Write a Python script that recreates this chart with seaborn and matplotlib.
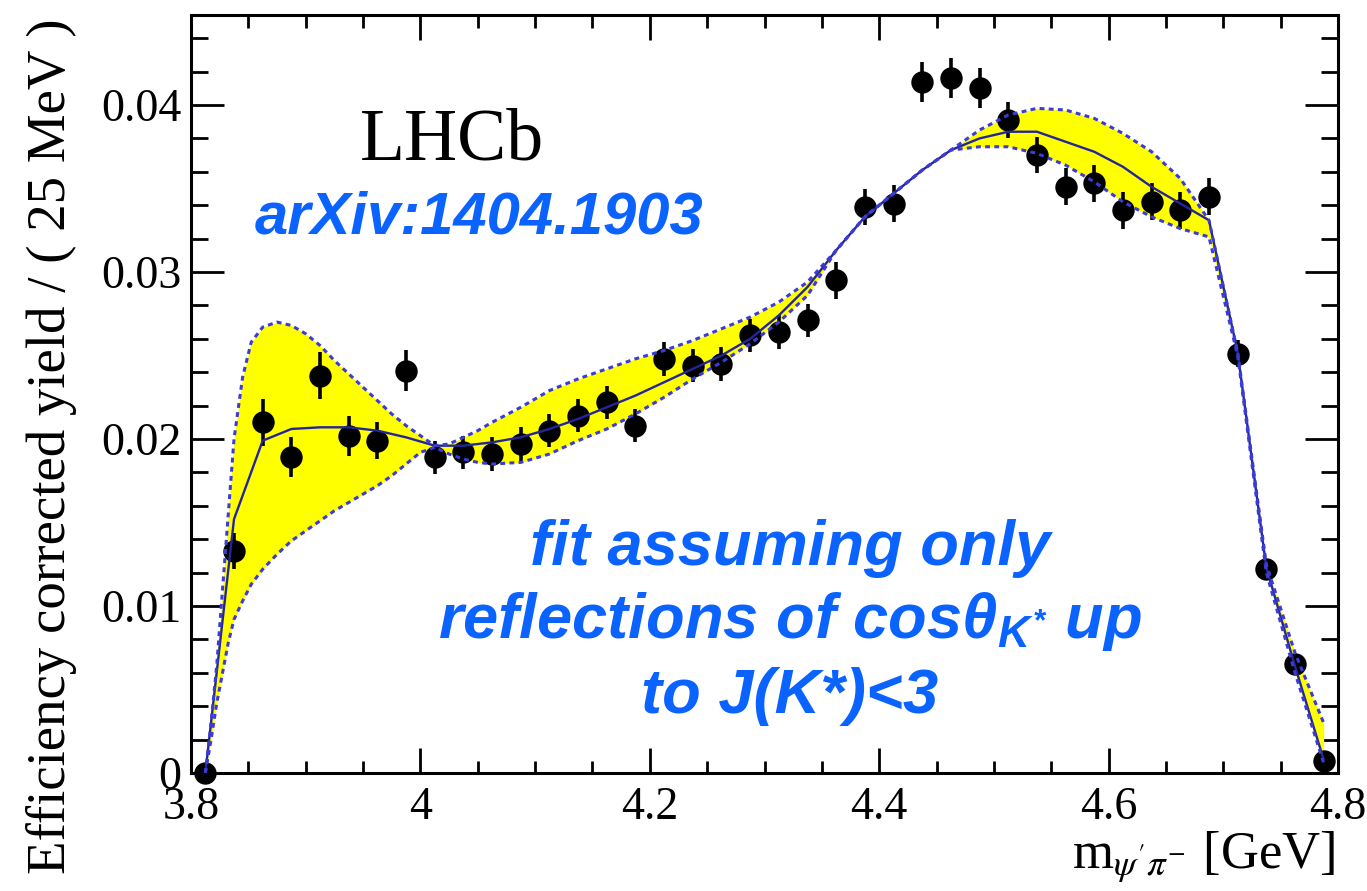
import matplotlib
matplotlib.use("Agg")
import matplotlib.pyplot as plt
import seaborn as sns
import pandas as pd
from matplotlib.ticker import FixedLocator, FixedFormatter, MultipleLocator

# ---------------- data ----------------
mass = [3.8125, 3.8375, 3.8625, 3.8875, 3.9125, 3.9375, 3.9625, 3.9875,
        4.0125, 4.0375, 4.0625, 4.0875, 4.1125, 4.1375, 4.1625, 4.1875,
        4.2125, 4.2375, 4.2625, 4.2875, 4.3125, 4.3375, 4.3625, 4.3875,
        4.4125, 4.4375, 4.4625, 4.4875, 4.5125, 4.5375, 4.5625, 4.5875,
        4.6125, 4.6375, 4.6625, 4.6875, 4.7125, 4.7375, 4.7625, 4.7875]

yield_vals = [0.0000, 0.0133, 0.0210, 0.0189, 0.0238, 0.0202, 0.0199, 0.0241,
              0.0189, 0.0192, 0.0191, 0.0197, 0.0205, 0.0214, 0.0222, 0.0208,
              0.0248, 0.0244, 0.0245, 0.0262, 0.0264, 0.0271, 0.0295, 0.0339,
              0.0341, 0.0414, 0.0416, 0.0410, 0.0391, 0.0370, 0.0351, 0.0353,
              0.0337, 0.0342, 0.0337, 0.0345, 0.0251, 0.0122, 0.0065, 0.0007]

yield_err = [0.0003, 0.0011, 0.0014, 0.0012, 0.0014, 0.0012, 0.0011, 0.0012,
             0.0010, 0.0010, 0.0010, 0.0010, 0.0010, 0.0010, 0.0010, 0.0010,
             0.0010, 0.0010, 0.0010, 0.0010, 0.0010, 0.0010, 0.0011, 0.0011,
             0.0011, 0.0012, 0.0012, 0.0012, 0.0011, 0.0011, 0.0011, 0.0011,
             0.0011, 0.0011, 0.0011, 0.0011, 0.0008, 0.0005, 0.0004, 0.0003]

fit_vals = [0.0000, 0.0152, 0.0199, 0.0206, 0.0207, 0.0207, 0.0205, 0.0201,
            0.0196, 0.0196, 0.0198, 0.0201, 0.0206, 0.0212, 0.0219, 0.0226,
            0.0234, 0.0242, 0.0250, 0.0260, 0.0274, 0.0291, 0.0313, 0.0333,
            0.0347, 0.0361, 0.0373, 0.0380, 0.0384, 0.0384, 0.0378, 0.0372,
            0.0363, 0.0351, 0.0341, 0.0331, 0.0252, 0.0123, 0.0064, 0.0008]

band_x = [3.8125, 3.8175, 3.8225, 3.8275, 3.8325, 3.8375, 3.845, 3.8525,
          3.8625, 3.875, 3.8875, 3.9, 3.9125, 3.925, 3.9375, 3.95, 3.9625,
          3.975, 3.9875, 4.0, 4.0125, 4.025, 4.0375, 4.05, 4.0625, 4.0875,
          4.1125, 4.1375, 4.1625, 4.1875, 4.2125, 4.2375, 4.2625, 4.2875,
          4.3125, 4.3375, 4.3625, 4.3875, 4.4125, 4.4375, 4.4625, 4.4875,
          4.5125, 4.5375, 4.5625, 4.5875, 4.6125, 4.6375, 4.6625, 4.6875,
          4.7125, 4.7375, 4.7625, 4.7875]

band_hi = [0.0000, 0.0030, 0.0065, 0.0110, 0.0155, 0.0200, 0.0237, 0.0258,
           0.0267, 0.0270, 0.0268, 0.0263, 0.0256, 0.0247, 0.0239, 0.0231,
           0.0223, 0.0215, 0.0208, 0.0202, 0.0196, 0.0197, 0.0201, 0.0205,
           0.0210, 0.0219, 0.0229, 0.0236, 0.0242, 0.0248, 0.0253, 0.0259,
           0.0266, 0.0273, 0.0282, 0.0294, 0.0313, 0.0333, 0.0347, 0.0361,
           0.0373, 0.0385, 0.0394, 0.0398, 0.0397, 0.0392, 0.0383, 0.0372,
           0.0356, 0.0331, 0.0252, 0.0125, 0.0072, 0.0030]

band_lo = [0.0000, 0.0020, 0.0042, 0.0060, 0.0078, 0.0092, 0.0103, 0.0113,
           0.0122, 0.0131, 0.0139, 0.0145, 0.0151, 0.0157, 0.0162, 0.0167,
           0.0172, 0.0178, 0.0185, 0.0192, 0.0195, 0.0191, 0.0188, 0.0186,
           0.0185, 0.0186, 0.0191, 0.0199, 0.0206, 0.0215, 0.0225, 0.0236,
           0.0246, 0.0257, 0.0270, 0.0286, 0.0313, 0.0333, 0.0347, 0.0361,
           0.0373, 0.0375, 0.0375, 0.0371, 0.0364, 0.0354, 0.0342, 0.0333,
           0.0326, 0.0321, 0.0250, 0.0120, 0.0060, 0.0006]

x_ticks = [3.8, 4.0, 4.2, 4.4, 4.6, 4.8]
x_tick_labels = ["3.8", "4", "4.2", "4.4", "4.6", "4.8"]
y_ticks = [0.0, 0.01, 0.02, 0.03, 0.04]
y_tick_labels = ["0", "0.01", "0.02", "0.03", "0.04"]

# ---------------- style ----------------
sns.set_theme(style="ticks")
plt.rcParams["font.family"] = ["Liberation Serif", "DejaVu Serif"]
plt.rcParams["text.color"] = "black"
plt.rcParams["axes.labelcolor"] = "black"
plt.rcParams["xtick.color"] = "black"
plt.rcParams["ytick.color"] = "black"
plt.rcParams["mathtext.fontset"] = "custom"
plt.rcParams["mathtext.it"] = "Liberation Sans:bold:italic"
plt.rcParams["mathtext.rm"] = "Liberation Sans:bold:italic"
plt.rcParams["mathtext.bf"] = "Liberation Sans:bold:italic"

W, H = 1367, 891
fig = plt.figure(figsize=(W / 100, H / 100), dpi=100)
ax = fig.add_axes([191 / W, (H - 773) / H, (1338 - 191) / W, (773 - 15) / H])

data = pd.DataFrame({"mass": mass, "yield": yield_vals, "err": yield_err, "fit": fit_vals})
band = pd.DataFrame({"x": band_x, "hi": band_hi, "lo": band_lo})

# yellow uncertainty band
ax.fill_between(band["x"], band["lo"], band["hi"], color="#ffff00", lw=0, zorder=1)

# data points
ax.errorbar(data["mass"], data["yield"], yerr=data["err"], fmt="none",
            ecolor="black", elinewidth=2.6, capsize=0, zorder=2, clip_on=False)
sns.scatterplot(data=data, x="mass", y="yield", ax=ax, color="black", s=260,
                edgecolor="black", linewidth=0, zorder=3, clip_on=False)

# fit curve
sns.lineplot(data=data, x="mass", y="fit", ax=ax, color="#25259a", lw=1.7,
             zorder=4, estimator=None, sort=False)
# band boundaries (dotted blue)
for col in ["hi", "lo"]:
    sns.lineplot(data=band, x="x", y=col, ax=ax, color="#3b3bd6", lw=2.2,
                 linestyle=(0, (1.6, 1.4)), zorder=5, estimator=None, sort=False)

# axes
ax.set_xlim(3.8, 4.8)
ax.set_ylim(0, (773 - 15) / 16700)
ax.xaxis.set_major_locator(FixedLocator(x_ticks))
ax.xaxis.set_major_formatter(FixedFormatter(x_tick_labels))
ax.xaxis.set_minor_locator(MultipleLocator(0.05))
ax.yaxis.set_major_locator(FixedLocator(y_ticks))
ax.yaxis.set_major_formatter(FixedFormatter(y_tick_labels))
ax.yaxis.set_minor_locator(MultipleLocator(0.002))
ax.tick_params(which="both", direction="in", top=True, right=True,
               colors="black", labelcolor="black", width=2.0, labelsize=33)
ax.tick_params(axis="y", which="major", length=24, pad=7)
ax.tick_params(axis="y", which="minor", length=12)
ax.tick_params(axis="x", which="major", length=18, pad=10)
ax.tick_params(axis="x", which="minor", length=9)
for sp in ax.spines.values():
    sp.set_linewidth(2.2)
    sp.set_color("black")
ax.set_xlabel("")
ax.set_ylabel("")

# axis titles
fig.text(1336 / W, 1 - 868 / H, r"m$_{\psi'\pi^{-}}$ [GeV]", ha="right",
         va="baseline", fontsize=38, family="Liberation Serif",
         math_fontfamily="stix", color="black")
fig.text(52 / W, 1 - 446 / H, "Efficiency corrected yield / ( 25 MeV )",
         rotation=90, ha="center", va="center", fontsize=39.5,
         family="Liberation Serif", color="black")

# annotations
fig.text(452 / W, 1 - 160 / H, "LHCb", ha="center", va="baseline",
         fontsize=53, family="Liberation Serif", color="black")
blue = "#0a62ff"
fig.text(479 / W, 1 - 233 / H, "arXiv:1404.1903", ha="center", va="baseline",
         fontsize=43, family="Liberation Sans", weight="bold", style="italic",
         color=blue)
lines = ["fit assuming only", r"reflections of cosθ$_{K^{*}}$ up", "to J(K*)<3"]
baselines = [565, 638, 713]
for txt, yb in zip(lines, baselines):
    fig.text(790 / W, 1 - yb / H, txt, ha="center", va="baseline",
             fontsize=45.5, family="Liberation Sans", weight="bold",
             style="italic", color=blue, math_fontfamily="custom")

fig.savefig("out.png", dpi=100)
